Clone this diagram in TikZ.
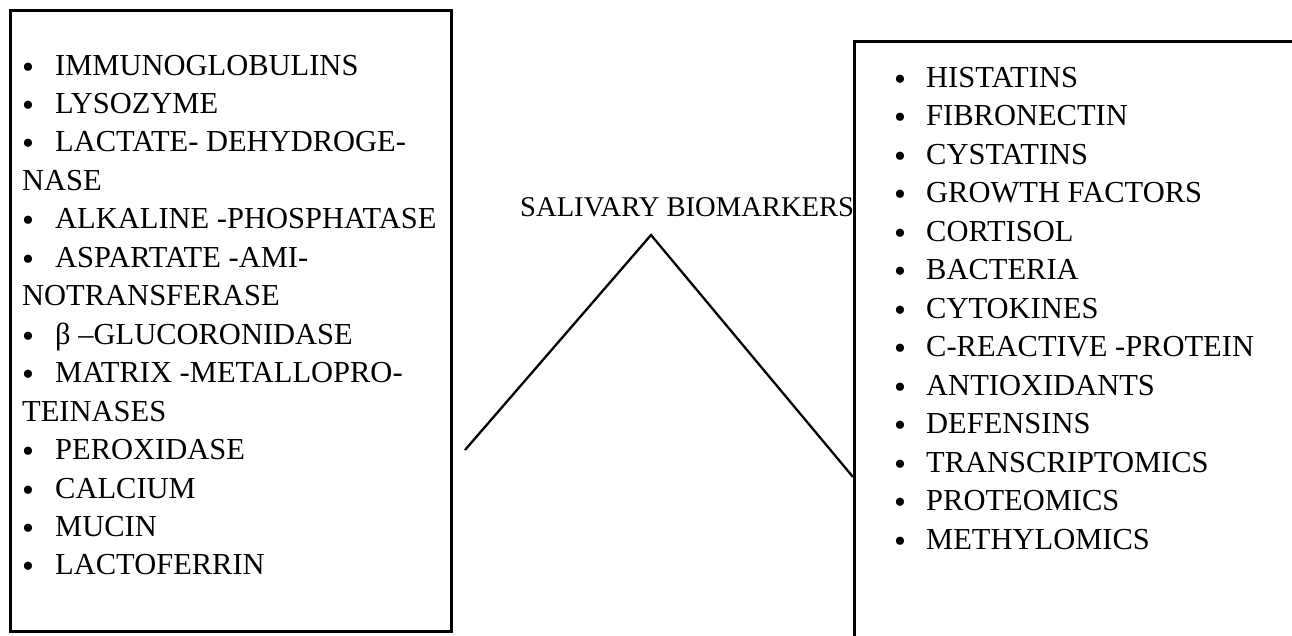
\documentclass[tikz,border=0pt]{standalone}
\usepackage{fontspec}
\setmainfont{Liberation Serif}
\begin{document}
\begin{tikzpicture}[x=1pt,y=-1pt,
  boxframe/.style={draw=black, line width=3pt, fill=none, inner sep=0pt},
  item/.style={anchor=base west, inner sep=0pt, font=\fontsize{30.5}{34}\selectfont},
  bul/.style={anchor=base west, inner sep=0pt, font=\fontsize{34}{38}\selectfont},
  ttl/.style={anchor=base west, inner sep=0pt, font=\fontsize{28.6}{30}\selectfont},
  link/.style={draw=black, line width=2.3pt}]
\useasboundingbox (0,0) rectangle (1292,635);
\clip (0,0) rectangle (1292,635);
\fill[white] (0,0) rectangle (1292,635);
% boxes
\node[boxframe, minimum width=441pt, minimum height=621pt] (leftbox) at (230.5,320.5) {};
\node[boxframe, minimum width=480pt, minimum height=680pt] (rightbox) at (1094,381) {};
% left list
\foreach \k/\b/\t [count=\i] in {
  0/1/IMMUNOGLOBULINS,
  1/1/LYSOZYME,
  2/1/LACTATE- DEHYDROGE-,
  3/0/NASE,
  4/1/ALKALINE -PHOSPHATASE,
  5/1/ASPARTATE -AMI-,
  6/0/NOTRANSFERASE,
  7/1/β –GLUCORONIDASE,
  8/1/MATRIX -METALLOPRO-,
  9/0/TEINASES,
  10/1/PEROXIDASE,
  11/1/CALCIUM,
  12/1/MUCIN,
  13/1/LACTOFERRIN}{
  \ifnum\b=1
    \node[bul] (lb\i) at (22,{78+38.46*\k}) {•};
    \node[item] (lt\i) at (55,{75+38.46*\k}) {\t};
  \else
    \node[item] (lt\i) at (22,{75+38.46*\k}) {\t};
  \fi
}
% right list
\foreach \t [count=\i from 0] in {
  HISTATINS, FIBRONECTIN, CYSTATINS, GROWTH FACTORS, CORTISOL, BACTERIA,
  CYTOKINES, C-REACTIVE -PROTEIN, ANTIOXIDANTS, DEFENSINS,
  TRANSCRIPTOMICS, PROTEOMICS, METHYLOMICS}{
  \node[bul] (rb\i) at (894,{90+38.5*\i}) {•};
  \node[item] (rt\i) at (926,{87+38.5*\i}) {\t};
}
% title
\node[ttl] (title) at (520,216) {SALIVARY BIOMARKERS};
% connectors
\coordinate (lend) at (465,450);
\coordinate (apex) at (651,235);
\coordinate (rend) at (853,477);
\draw[link] (lend) -- (apex) -- (rend);
\end{tikzpicture}
\end{document}
